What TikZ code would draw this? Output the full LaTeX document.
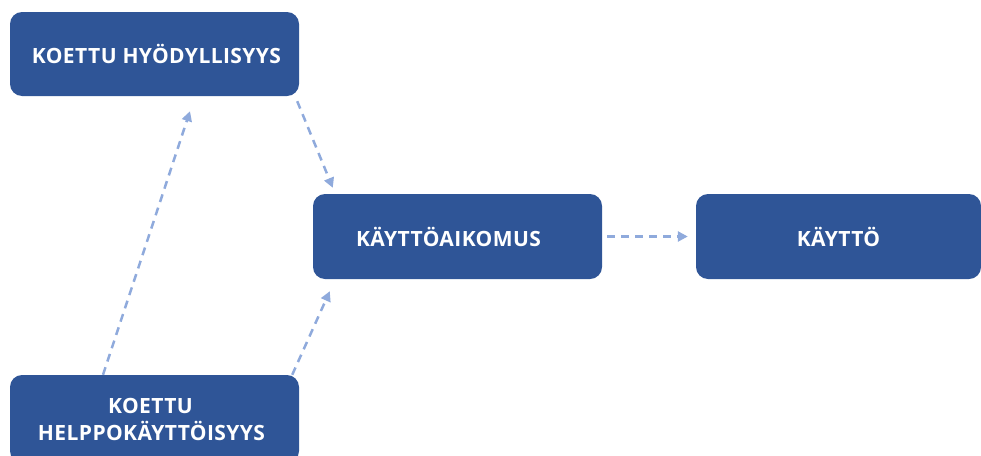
\documentclass[tikz,border=0pt]{standalone}
\usepackage{fontspec}
\setmainfont{Open Sans}[LetterSpace=2]
\usetikzlibrary{arrows.meta}
\definecolor{boxblue}{HTML}{2F5597}
\definecolor{linkblue}{HTML}{8FAADC}
\begin{document}
\begin{tikzpicture}[x=1pt,y=-1pt,
  box/.style={fill=boxblue, rounded corners=12pt, text=white, align=center,
    font=\fontsize{21}{27}\selectfont\bfseries, inner sep=0pt},
  link/.style={draw=linkblue, line width=2.5pt, dash pattern=on 8pt off 6pt,
    -{Triangle[length=10pt,width=10pt]}}]
\useasboundingbox (0,0) rectangle (981,455);
\clip (0,0) rectangle (981,455);
\node[box, minimum width=289pt, minimum height=84pt] (use1) at (154.5,54) {\kern4pt KOETTU HYÖDYLLISYYS};
\node[box, minimum width=289pt, minimum height=85pt] (intent) at (457.5,236.5) {KÄYTTÖAIKOMUS\kern18pt};
\node[box, minimum width=285pt, minimum height=85pt] (usage) at (838.5,236.5) {KÄYTTÖ};
\node[box, minimum width=289pt, minimum height=88pt] (ease) at (154.5,419) {KOETTU\kern8pt\\HELPPOKÄYTTÖISYYS\kern6pt};
\draw[link] ([xshift=-51.5pt]ease.north) -- ([xshift=35.5pt,yshift=-15pt]use1.south);
\draw[link] ([xshift=-2pt,yshift=-5pt]use1.south east) -- ([xshift=20pt,yshift=6pt]intent.north west);
\draw[link] ([xshift=-7pt]ease.north east) -- ([xshift=17pt,yshift=-12pt]intent.south west);
\draw[link] ([xshift=5pt]intent.east) -- ([xshift=-8pt]usage.west);
\end{tikzpicture}
\end{document}
